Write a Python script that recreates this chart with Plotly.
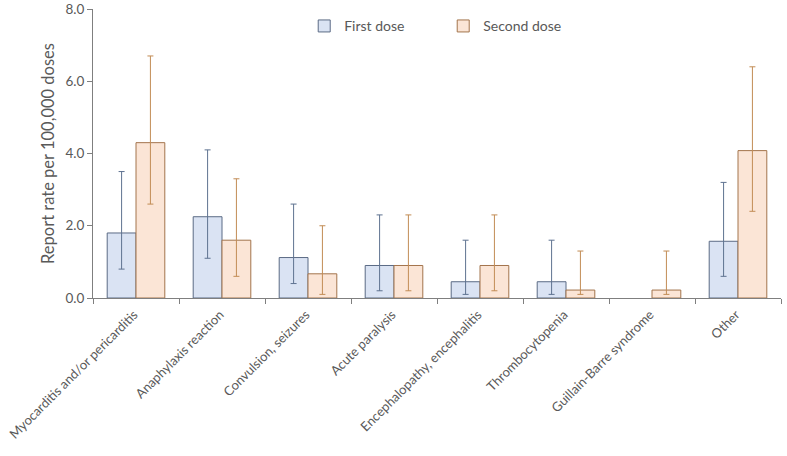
import plotly.graph_objects as go

# DATA
categories = [
    "Myocarditis and/or pericarditis",
    "Anaphylaxis reaction",
    "Convulsion, seizures",
    "Acute paralysis",
    "Encephalopathy, encephalitis",
    "Thrombocytopenia",
    "Guillain-Barre syndrome",
    "Other",
]

first_rate = [1.8, 2.25, 1.12, 0.9, 0.45, 0.45, None, 1.57]
first_low = [0.8, 1.1, 0.4, 0.2, 0.1, 0.1, None, 0.6]
first_high = [3.5, 4.1, 2.6, 2.3, 1.6, 1.6, None, 3.2]

second_rate = [4.3, 1.6, 0.67, 0.9, 0.9, 0.22, 0.22, 4.08]
second_low = [2.6, 0.6, 0.1, 0.2, 0.2, 0.1, 0.1, 2.4]
second_high = [6.7, 3.3, 2.0, 2.3, 2.3, 1.3, 1.3, 6.4]

y_ticks = [0, 2, 4, 6, 8]

FONT = "Lato"
GREY = "#595959"


def err(vals, lo, hi):
    plus = [None if v is None else h - v for v, h in zip(vals, hi)]
    minus = [None if v is None else v - l for v, l in zip(vals, lo)]
    return plus, minus


fp, fm = err(first_rate, first_low, first_high)
sp, sm = err(second_rate, second_low, second_high)

fig = go.Figure()

fig.add_trace(go.Bar(
    name="First dose",
    x=categories,
    y=first_rate,
    marker=dict(color="#dae3f3", line=dict(color="#5b6b85", width=1)),
    error_y=dict(type="data", array=fp, arrayminus=fm, symmetric=False,
                 color="#5e7290", thickness=1, width=3),
))

fig.add_trace(go.Bar(
    name="Second dose",
    x=categories,
    y=second_rate,
    marker=dict(color="#fbe5d6", line=dict(color="#a3744c", width=1)),
    error_y=dict(type="data", array=sp, arrayminus=sm, symmetric=False,
                 color="#c28c55", thickness=1, width=3),
))

fig.update_layout(
    width=787,
    height=456,
    margin=dict(l=93, r=6, t=9, b=158, autoexpand=False),
    paper_bgcolor="white",
    plot_bgcolor="white",
    barmode="group",
    bargap=0.33,
    bargroupgap=0,
    font=dict(family=FONT, color=GREY, size=13),
    legend=dict(
        orientation="h",
        x=0.307, y=0.94,
        xanchor="left", yanchor="middle",
        font=dict(size=14, color=GREY),
        itemwidth=30,
        entrywidth=94,
        entrywidthmode="pixels",
        traceorder="normal",
    ),
    showlegend=True,
)

fig.update_xaxes(
    automargin=False,
    showline=True, linecolor="#7f7f7f", linewidth=1,
    ticks="outside", tickson="boundaries", ticklen=5, tickcolor="#7f7f7f",
    tickangle=-45,
    ticklabelshift=-2,
    ticklabelstandoff=3,
    tickfont=dict(size=13, color=GREY),
    showgrid=False,
)

fig.update_yaxes(
    automargin=False,
    range=[0, 8],
    tickvals=y_ticks,
    tickformat=".1f",
    ticklabeloverflow="allow",
    showline=True, linecolor="#7f7f7f", linewidth=1,
    ticks="outside", ticklen=5, tickcolor="#7f7f7f",
    showgrid=False, zeroline=False,
    tickfont=dict(size=13.5, color=GREY),
    title=dict(text="Report rate per 100,000 doses", font=dict(size=16.5, color=GREY), standoff=6),
)

# drop the page's default body margin so the figure sits at the window corner
fig.write_html(
    "out.html",
    config={"displayModeBar": False},
    post_script="document.body.style.margin='0';",
)
